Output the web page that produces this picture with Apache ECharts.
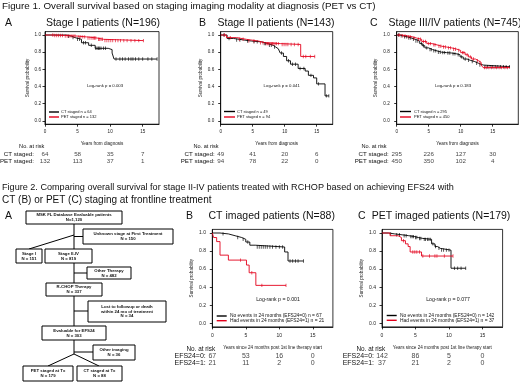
<!DOCTYPE html>
<html><head><meta charset="utf-8">
<script src="https://cdn.jsdelivr.net/npm/echarts@6/dist/echarts.min.js"></script>
<style>html,body{margin:0;padding:0;background:#fff}#c{width:520px;height:382px}</style>
</head><body><div id="c"></div>
<script>
// ---------------- DATA ----------------
const xTicks = [0, 5, 10, 15];
const yTicks = [0, 0.2, 0.4, 0.6, 0.8, 1.0];

const fig1Title = 'Figure 1. Overall survival based on staging imaging modality at diagnosis (PET vs CT)';
const fig2Title = ['Figure 2. Comparing overall survival for stage II-IV patients treated with RCHOP based on achieving EFS24 with',
                   'CT (B) or PET (C) staging at frontline treatment'];
const panelTitles = ['Stage I patients (N=196)', 'Stage II patients (N=143)', 'Stage III/IV patients (N=745)',
                     'CT imaged patients (N=88)', 'PET imaged patients (N=179)'];
const pValues = ['Log-rank p = 0.003', 'Log-rank p = 0.041', 'Log-rank p = 0.183', 'Log-rank p = 0.001', 'Log-rank p = 0.077'];
const fig1RowLabels = ['CT staged:', 'PET staged:'];
const fig2RowLabels = ['EFS24=0:', 'EFS24=1:'];

// Stage I
const s1_ct_steps = [[0,1],[3.3,0.985],[4.1,0.97],[4.6,0.95],[5.6,0.91],[6.7,0.88],[7.7,0.845],[9.7,0.83],[10.3,0.79],[10.6,0.72],[17.2,0.72]];
const s1_pet_steps = [[0,1],[1.3,0.995],[3.0,0.988],[4.9,0.978],[6.4,0.965],[8.0,0.95],[9.0,0.935],[15.1,0.935]];
const s1_ct_cens = [3.6,4.3,5.0,5.3,5.9,6.2,7.1,7.8,8.0,8.2,8.4,8.6,9.0,9.3,10.9,11.5,11.9,12.3,12.8,13.2,13.5,13.9,14.4,15.0,15.8,16.4,17.2];
const s1_pet_cens = [1.2,1.5,1.8,2.1,2.4,2.7,3.1,3.4,3.7,4.0,4.3,4.6,5.2,5.5,5.8,6.1,6.6,6.9,7.2,7.4,7.6,7.8,8.2,8.4,8.6,8.8,9.2,9.5,9.8,10.1,10.4,10.8,11.2,11.6,12.1,12.6,13.2,13.8,14.4,15.1];
const s1_ct_risk = [64, 58, 35, 7];
const s1_pet_risk = [132, 113, 37, 1];

// Stage II
const s2_ct_steps = [[0,1],[1.0,0.96],[2.0,0.94],[3.8,0.93],[4.8,0.92],[6.4,0.90],[7.4,0.88],[8.2,0.86],[8.6,0.84],[9.0,0.82],[9.3,0.79],[9.8,0.75],[10.3,0.70],[10.9,0.66],[12.1,0.61],[13.2,0.58],[13.7,0.53],[14.5,0.50],[15.0,0.43],[16.3,0.29],[16.9,0.29]];
const s2_pet_steps = [[0,1],[0.9,0.97],[2.5,0.95],[4.0,0.93],[5.9,0.91],[6.9,0.90],[9.3,0.89],[12.5,0.75],[14.7,0.75]];
const s2_ct_cens = [0.5,1.3,2.5,3.0,4.2,5.2,5.7,6.8,7.0,7.6,7.9,8.4,9.5,10.6,11.2,11.7,12.4,13.0,14.1,15.3,16.5,16.9];
const s2_pet_cens = [0.6,1.5,2.9,3.5,4.4,5.2,6.2,6.6,7.1,7.3,7.5,7.7,7.9,8.1,8.3,8.5,8.7,9.0,9.6,9.9,10.2,10.5,11.0,11.5,12.1,12.9,13.3,14.0,14.7];
const s2_ct_risk = [49, 41, 20, 6];
const s2_pet_risk = [94, 78, 22, 0];

// Stage III/IV
const s34_ct_steps = [[0,1],[0.5,0.99],[1.0,0.98],[1.6,0.965],[2.3,0.95],[2.9,0.93],[3.6,0.90],[4.0,0.875],[4.4,0.85],[5.0,0.83],[5.6,0.815],[6.3,0.80],[7.0,0.795],[7.8,0.79],[8.6,0.78],[9.4,0.77],[9.9,0.745],[10.4,0.72],[11.0,0.705],[11.5,0.69],[12.2,0.67],[12.8,0.65],[13.5,0.63],[17.7,0.63]];
const s34_pet_steps = [[0,1],[0.8,0.99],[1.6,0.98],[2.4,0.965],[3.1,0.95],[3.9,0.925],[4.7,0.90],[5.5,0.885],[6.3,0.87],[7.0,0.86],[7.8,0.85],[8.6,0.835],[9.4,0.82],[10.0,0.795],[10.7,0.77],[11.2,0.745],[11.7,0.72],[12.3,0.70],[12.8,0.68],[13.2,0.65],[13.5,0.62],[17.7,0.62]];
const s34_ct_cens = [0.3,0.7,1.2,1.5,1.9,2.2,2.6,3.0,3.3,3.9,4.2,4.7,5.2,5.4,5.8,6.1,6.5,6.8,7.2,7.5,8.0,8.3,8.8,9.1,9.6,10.1,10.7,11.2,11.8,12.5,13.0,13.8,14.2,14.6,15.0,15.4,15.8,16.2,16.7,17.1,17.6];
const s34_pet_cens = [0.4,0.9,1.3,1.8,2.1,2.7,3.4,3.7,4.2,4.5,5.0,5.3,5.8,6.0,6.6,6.9,7.3,7.6,8.1,8.4,8.9,9.2,9.7,10.3,10.5,11.0,11.5,12.0,12.6,13.0,13.7,14.0,14.4,14.8,15.2,15.6,16.0,16.4,16.9,17.3];
const s34_ct_risk = [295, 226, 127, 30];
const s34_pet_risk = [450, 350, 102, 4];

// Fig 2B CT imaged
const ct_e0_steps = [[0,1],[1.15,0.99],[2.4,0.97],[3.4,0.95],[4.4,0.93],[5.0,0.90],[5.6,0.865],[6.4,0.845],[10.8,0.79],[11.3,0.69],[13.6,0.69]];
const ct_e1_steps = [[0,1],[0.2,0.95],[0.65,0.905],[1.15,0.755],[2.4,0.70],[5.1,0.645],[5.5,0.56],[6.5,0.42],[11.0,0.42]];
const ct_e0_cens = [1.6,3.8,4.6,5.3,6.7,7.0,7.3,7.6,7.9,8.2,8.6,9.0,9.5,10.0,10.5,11.6,12.0,12.4,12.8,13.6];
const ct_e1_cens = [4.2,5.9,7.4,11.0];
const ct_e0_risk = [67, 53, 16, 0];
const ct_e1_risk = [21, 11, 2, 0];

// Fig 2C PET imaged
const pet_e0_steps = [[0,1],[0.95,0.99],[1.9,0.98],[3.0,0.97],[4.0,0.96],[4.9,0.95],[5.4,0.94],[6.1,0.93],[7.4,0.88],[7.9,0.85],[8.3,0.83],[8.7,0.81],[10.3,0.61],[12.5,0.61]];
const pet_e1_steps = [[0,1],[1.2,0.97],[2.4,0.95],[2.9,0.915],[3.5,0.88],[3.9,0.85],[4.2,0.79],[5.9,0.745],[10.6,0.745]];
const pet_e0_cens = [1.3,2.2,2.6,3.3,3.6,4.3,4.5,4.7,5.0,5.2,5.6,5.8,6.3,6.5,6.8,7.0,7.2,7.6,8.0,8.5,8.9,9.2,9.6,10.0,10.8,11.3,11.8,12.5];
const pet_e1_cens = [3.2,4.6,4.9,5.2,5.6,6.1,7.1,7.9,8.2,9.3,10.6];
const pet_e0_risk = [142, 86, 5, 0];
const pet_e1_risk = [37, 21, 2, 0];

// Flowchart text
const flowText = [
  ['MSK FL Database Evaluable patients','N=1,120'],
  ['Unknown stage at First Treatment','N = 150'],
  ['Stage I','N = 151'],
  ['Stage II-IV','N = 819'],
  ['Other Therapy','N = 482'],
  ['R-CHOP Therapy','N = 337'],
  ['Lost to followup or death','within 24 mo of treatment','N = 34'],
  ['Evaluable for EFS24','N = 303'],
  ['Other imaging','N = 36'],
  ['PET staged at Tx','N = 179'],
  ['CT staged at Tx','N = 88']
];

// ---------------- BUILD ----------------
const FONT = '"Liberation Sans", Arial, sans-serif';
const RED = '#e3001b';
const BLACK = '#000000';
function stepAt(steps, t){ let v = steps[0][1]; for (const p of steps){ if (p[0] <= t) v = p[1]; } return v; }

const grids = [], xAxes = [], yAxes = [], series = [], graphics = [];

function txt(x, y, text, size, opts){
  opts = opts || {};
  graphics.push({type:'text', x:x, y:y, silent:true, style:{text:text, fill:opts.color||'#111', fontSize:size, fontFamily:FONT,
    fontWeight:opts.weight||'normal', align:opts.align||'left', verticalAlign:'middle'}});
}
function ln(x1,y1,x2,y2,w,c){ graphics.push({type:'line', silent:true, shape:{x1:x1,y1:y1,x2:x2,y2:y2}, style:{stroke:c||'#000', lineWidth:w||1}}); }

function addPanel(p){
  const gi = grids.length;
  grids.push({left:p.left, top:p.top, width:p.width, height:p.height, show:true, borderColor:'#000', borderWidth:0.8,
    backgroundColor:'rgba(0,0,0,0)', containLabel:false, outerBoundsMode:'none'});
  xAxes.push({gridIndex:gi, type:'value', min:0, max:p.xmax, name:p.xName, nameLocation:'middle', nameGap:p.xNameGap,
    nameTextStyle:{fontFamily:FONT, fontSize:p.nameSize, color:'#222'},
    axisLine:{show:true, onZero:false, lineStyle:{color:'#000', width:0.8}},
    axisTick:{show:true, customValues:xTicks, length:2.5, lineStyle:{color:'#000', width:0.8}},
    axisLabel:{show:true, customValues:xTicks, fontFamily:FONT, fontSize:p.tickSize, color:'#222', margin:p.xLabelMargin},
    splitLine:{show:false}});
  yAxes.push({gridIndex:gi, type:'value', min:-0.04, max:1.04, name:'Survival probability', nameLocation:'middle', nameRotate:90, nameGap:p.yNameGap,
    nameTextStyle:{fontFamily:FONT, fontSize:p.nameSize, color:'#222'},
    axisLine:{show:true, onZero:false, lineStyle:{color:'#000', width:0.8}},
    axisTick:{show:true, customValues:yTicks, length:2.5, lineStyle:{color:'#000', width:0.8}},
    axisLabel:{show:true, customValues:yTicks, formatter:function(v){return Number(v).toFixed(1);}, fontFamily:FONT, fontSize:p.tickSize, color:'#222', margin:p.yLabelMargin},
    splitLine:{show:false}});
  p.curves.forEach(function(c, k){
    series.push({type:'line', name:c.name, xAxisIndex:gi, yAxisIndex:gi, step:'end', data:c.steps, showSymbol:false, symbol:'none',
      lineStyle:{color:c.color, width:0.9}, itemStyle:{color:c.color}, silent:true, animation:false, z:2+k});
    series.push({type:'scatter', xAxisIndex:gi, yAxisIndex:gi, data:c.cens.map(function(t){return [t, stepAt(c.steps, t)];}),
      symbol:'rect', symbolSize:[0.8,3.4], itemStyle:{color:c.color}, silent:true, animation:false, z:2+k});
  });
  // risk table grid
  const ri = grids.length;
  grids.push({left:p.left, top:p.riskTop, width:p.width, height:p.riskHeight, show:false, containLabel:false, outerBoundsMode:'none'});
  xAxes.push({gridIndex:ri, type:'value', min:0, max:p.xmax, show:false});
  yAxes.push({gridIndex:ri, type:'category', data:p.rowLabels, inverse:true, axisLine:{show:false}, axisTick:{show:false}, splitLine:{show:false},
    axisLabel:{interval:0, hideOverlap:false, fontFamily:FONT, fontSize:p.rowSize, color:'#111', margin:p.rowMargin}});
  const d = [];
  p.curves.forEach(function(c, r){
    c.risk.forEach(function(n, i){
      d.push({value:[xTicks[i], p.rowLabels[r], n], label:{offset:[i === 0 ? p.firstOff : 0, 0]}});
    });
  });
  series.push({type:'scatter', xAxisIndex:ri, yAxisIndex:ri, data:d, symbolSize:0, silent:true, animation:false,
    labelLayout:{hideOverlap:false},
    label:{show:true, position:'inside', formatter:function(o){return String(o.value[2]);}, fontFamily:FONT, fontSize:p.rowSize, color:'#111'}});
  // legend (graphic), p-value, No. at risk
  p.curves.forEach(function(c, k){
    const ly = p.legY[k];
    ln(p.legX[0], ly, p.legX[1], ly, 1.4, c.color);
    txt(p.legX[2], ly, c.name, p.legSize, {color:'#111'});
  });
  txt(p.pX, p.pY, p.pText, p.legSize + 0.3, {align:'center'});
  txt(p.narX, p.narY, 'No. at risk', p.narSize, {align:'center'});
}

// Figure 1 panels
addPanel({left:45, top:31.6, width:114, height:92.6, xmax:17.5, xName:'Years from diagnosis', xNameGap:17.5, yNameGap:11,
  nameSize:4.6, tickSize:4.6, xLabelMargin:5.5, yLabelMargin:4, riskTop:150.5, riskHeight:14, rowLabels:fig1RowLabels, rowSize:6.2, rowMargin:11, firstOff:-1.5,
  curves:[{name:'CT staged n = 64', color:BLACK, steps:s1_ct_steps, cens:s1_ct_cens, risk:s1_ct_risk},
          {name:'PET staged n = 132', color:RED, steps:s1_pet_steps, cens:s1_pet_cens, risk:s1_pet_risk}],
  legX:[49,59,61], legY:[112,117], legSize:4, pX:105, pY:86, pText:pValues[0], narX:31.7, narY:146, narSize:5.6});
addPanel({left:220.7, top:31.6, width:112, height:92.6, xmax:17.5, xName:'Years from diagnosis', xNameGap:17.5, yNameGap:17.5,
  nameSize:4.6, tickSize:4.6, xLabelMargin:5.5, yLabelMargin:6.5, riskTop:150.5, riskHeight:14, rowLabels:fig1RowLabels, rowSize:6.2, rowMargin:6, firstOff:5,
  curves:[{name:'CT staged n = 49', color:BLACK, steps:s2_ct_steps, cens:s2_ct_cens, risk:s2_ct_risk},
          {name:'PET staged n = 94', color:RED, steps:s2_pet_steps, cens:s2_pet_cens, risk:s2_pet_risk}],
  legX:[224,235,237], legY:[111.5,117], legSize:4, pX:281.7, pY:86, pText:pValues[1], narX:206, narY:146, narSize:5.6});
addPanel({left:396.7, top:31.6, width:121.6, height:92.6, xmax:19, xName:'Years from diagnosis', xNameGap:17.5, yNameGap:18.5,
  nameSize:4.6, tickSize:4.6, xLabelMargin:5.5, yLabelMargin:7, riskTop:150.5, riskHeight:14, rowLabels:fig1RowLabels, rowSize:6.2, rowMargin:8, firstOff:8.5,
  curves:[{name:'CT staged n = 295', color:BLACK, steps:s34_ct_steps, cens:s34_ct_cens, risk:s34_ct_risk},
          {name:'PET staged n = 450', color:RED, steps:s34_pet_steps, cens:s34_pet_cens, risk:s34_pet_risk}],
  legX:[400,411,414], legY:[111.5,117], legSize:4, pX:453, pY:86, pText:pValues[2], narX:374, narY:146, narSize:5.6});
// Figure 2 panels
addPanel({left:212.3, top:229.4, width:120.6, height:97.5, xmax:18, xName:'Years since 24 months post 1st line therapy start', xNameGap:18, yNameGap:18,
  nameSize:4.6, tickSize:5, xLabelMargin:5.8, yLabelMargin:6.3, riskTop:352.3, riskHeight:14.6, rowLabels:fig2RowLabels, rowSize:7, rowMargin:6.5, firstOff:1,
  curves:[{name:'No events in 24 months (EFS24=0) n = 67', color:BLACK, steps:ct_e0_steps, cens:ct_e0_cens, risk:ct_e0_risk},
          {name:'Had events in 24 months (EFS24=1) n = 21', color:RED, steps:ct_e1_steps, cens:ct_e1_cens, risk:ct_e1_risk}],
  legX:[216.7,226.7,230], legY:[316,320.7], legSize:4.9, pX:278, pY:300, pText:pValues[3], narX:200.8, narY:349, narSize:6.4});
addPanel({left:382, top:229.4, width:120.6, height:97.5, xmax:18, xName:'Years since 24 months post 1st line therapy start', xNameGap:18, yNameGap:18,
  nameSize:4.6, tickSize:5, xLabelMargin:5.8, yLabelMargin:6, riskTop:352.3, riskHeight:14.6, rowLabels:fig2RowLabels, rowSize:7, rowMargin:8, firstOff:2,
  curves:[{name:'No events in 24 months (EFS24=0) n = 142', color:BLACK, steps:pet_e0_steps, cens:pet_e0_cens, risk:pet_e0_risk},
          {name:'Had events in 24 months (EFS24=1) n = 37', color:RED, steps:pet_e1_steps, cens:pet_e1_cens, risk:pet_e1_risk}],
  legX:[386.7,396.7,400], legY:[315.5,320.3], legSize:4.9, pX:448, pY:300, pText:pValues[4], narX:370.8, narY:349, narSize:6.4});

// Titles
txt(2, 6, fig1Title, 9.8);
txt(5, 23, 'A', 10.5); txt(199, 23, 'B', 10.5); txt(370, 23, 'C', 10.5);
txt(103, 23, panelTitles[0], 10.5, {align:'center'});
txt(276, 23, panelTitles[1], 10.5, {align:'center'});
txt(455, 23, panelTitles[2], 10.5, {align:'center'});
txt(2, 187, fig2Title[0], 9.1);
txt(2, 200, fig2Title[1], 10);
txt(5, 216, 'A', 10.5); txt(186, 216, 'B', 10.5); txt(358, 216, 'C', 10.5);
txt(271.7, 216, panelTitles[3], 10.5, {align:'center'});
txt(441, 216, panelTitles[4], 10.5, {align:'center'});

// Flowchart
const flowRects = [[26,211,122,224],[83,229,173,244],[16,249,42,263],[45,249,92,263],[87,267,131,279],[46,283,102,296],
                   [88,301,166,322],[42,326,106,340],[93,345,135,360],[23,366,73,381],[77,366,122,381]];
ln(74,224,74,249); ln(74,236.5,83,236.5); ln(74,235,29,249);
ln(74,263,74,283); ln(74,273,87,273);
ln(74,296,74,326); ln(74,311,88,311);
ln(74,340,74,354); ln(74,352,93,352); ln(74,354,48,366); ln(74,354,99,366);
flowRects.forEach(function(r, i){
  graphics.push({type:'rect', silent:true, shape:{x:r[0], y:r[1], width:r[2]-r[0], height:r[3]-r[1]}, style:{fill:'#fff', stroke:'#000', lineWidth:1}});
  const lines = flowText[i];
  const cx = (r[0] + r[2]) / 2, cy = (r[1] + r[3]) / 2, lh = 4.8;
  lines.forEach(function(s, j){
    txt(cx, cy + (j - (lines.length - 1) / 2) * lh, s, 4.3, {align:'center', weight:'bold'});
  });
});

const chart = echarts.init(document.getElementById('c'), null, {renderer:'canvas', width:520, height:382});
chart.setOption({
  animation:false,
  backgroundColor:'#ffffff',
  textStyle:{fontFamily:FONT},
  grid:grids, xAxis:xAxes, yAxis:yAxes, series:series, graphic:graphics
});
</script></body></html>
